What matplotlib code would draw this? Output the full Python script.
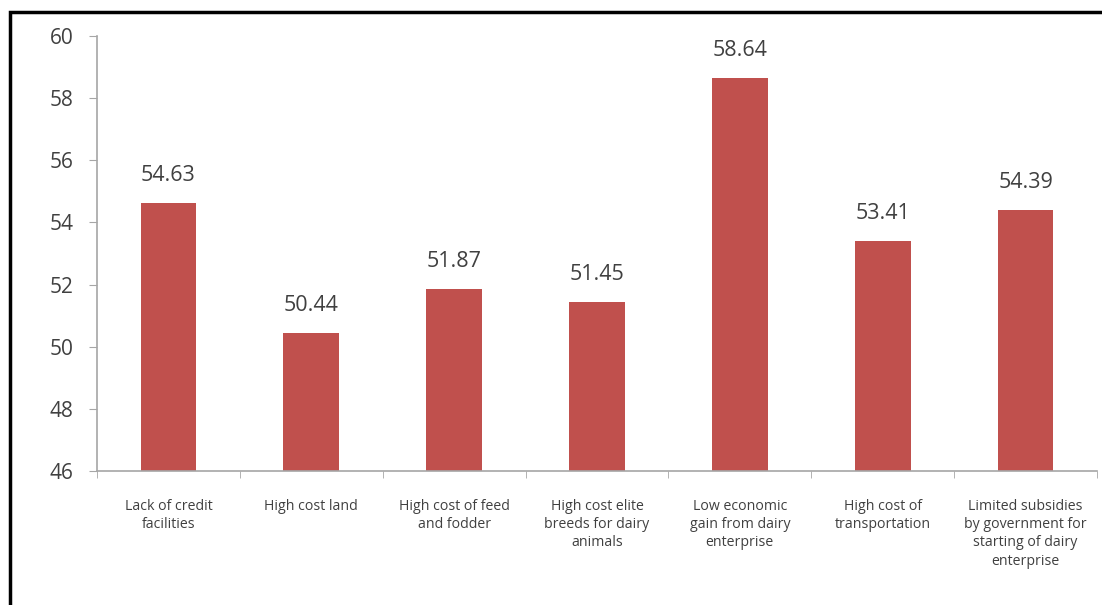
import matplotlib

matplotlib.use("Agg")
from matplotlib import pyplot as plt
from matplotlib.patches import Rectangle
import numpy as np

categories = [
    "Lack of credit\nfacilities",
    "High cost land",
    "High cost of feed\nand fodder",
    "High cost elite\nbreeds for dairy\nanimals",
    "Low economic\ngain from dairy\nenterprise",
    "High cost of\ntransportation",
    "Limited subsidies\nby government for\nstarting of dairy\nenterprise",
]
values = [54.63, 50.44, 51.87, 51.45, 58.64, 53.41, 54.39]
yticks = [46, 48, 50, 52, 54, 56, 58, 60]

bar_color = "#C0504D"
axis_color = "#A6A6A6"
text_color = "#404040"

plt.rcParams["font.family"] = ["Open Sans", "DejaVu Sans"]

fig = plt.figure(figsize=(11.02, 6.05), dpi=100)
ax = fig.add_axes([0.088, 0.2215, 0.9075, 0.719])

x = np.arange(len(categories))
ax.bar(x, values, width=0.39, color=bar_color)

for xi, v in zip(x, values):
    ax.text(xi, v + 0.55, f"{v:.2f}", ha="center", va="bottom",
            fontsize=15.5, color=text_color)

ax.set_xlim(-0.5, len(categories) - 0.5)
ax.set_ylim(46, 60)
ax.set_yticks(yticks)
ax.set_yticklabels([str(t) for t in yticks], fontsize=15, color=text_color)

ax.set_xticks(x)
ax.set_xticklabels(categories, fontsize=10.2, color=text_color, linespacing=1.3)
ax.tick_params(axis="x", length=0, pad=20)
ax.set_xticks(np.arange(len(categories) + 1) - 0.5, minor=True)
ax.tick_params(axis="x", which="minor", length=5, color=axis_color)
ax.tick_params(axis="y", length=6, color=axis_color, pad=11)

for side in ["top", "right"]:
    ax.spines[side].set_visible(False)
for side in ["left", "bottom"]:
    ax.spines[side].set_color(axis_color)
    ax.spines[side].set_linewidth(1.2)

# outer frame (cropped at right and bottom in the original)
fig.patches.append(Rectangle((10 / 1102, -0.1), 1.2, 1.1 - 12 / 605,
                             transform=fig.transFigure, fill=False,
                             edgecolor="black", linewidth=2.5))

plt.savefig("out.png", dpi=100)
